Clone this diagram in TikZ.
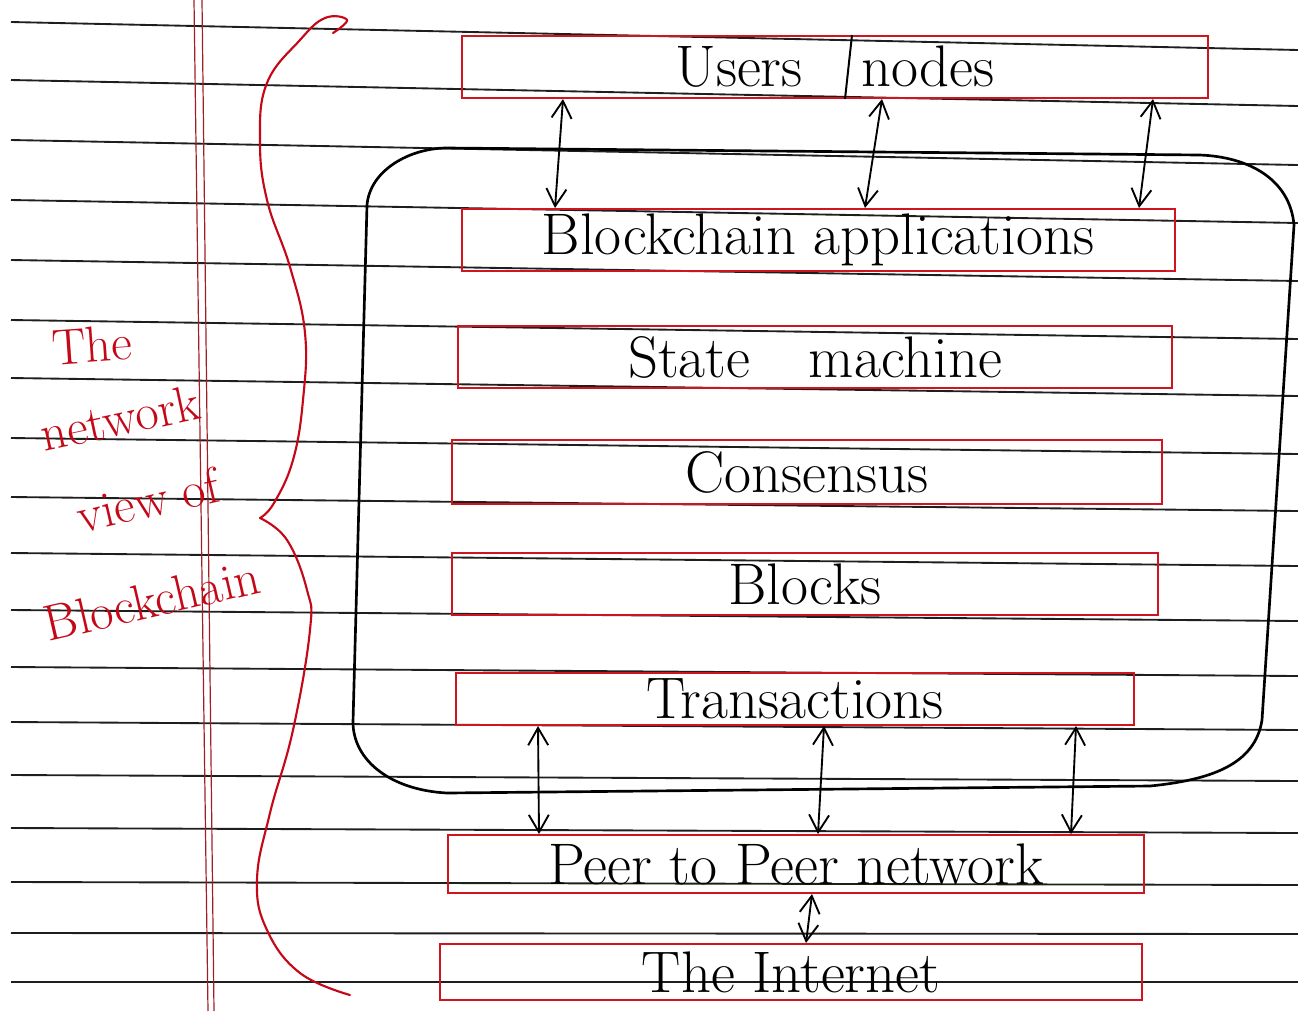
\documentclass[tikz,border=0pt]{standalone}
\usepackage{fontspec}
\usetikzlibrary{arrows.meta}

\tikzset{every picture/.style={line width=0.75pt}}
\tikzset{
  redbox/.style={draw={rgb, 255:red, 208; green, 20; blue, 32}, line width=1.5, inner sep=0pt, font=\fontsize{44}{50}\selectfont},
  boxwh/.style 2 args={minimum width={#1*0.75pt}, minimum height={#2*0.75pt}},
  redhand/.style={text={rgb, 255:red, 196; green, 8; blue, 24}, inner sep=0pt, font=\fontsize{38}{44}\selectfont},
  updown/.style={arrows={Straight Barb[length=13pt,width=15pt]-Straight Barb[length=13pt,width=15pt]}, line width=1.4},
  ruled/.style={color={rgb, 255:red, 30; green, 30; blue, 30}, line width=1.4},
  margin/.style={color={rgb, 255:red, 160; green, 30; blue, 40}, line width=0.9}
}

\begin{document}
\begin{tikzpicture}[x=0.75pt,y=0.75pt,yscale=-1,xscale=1]
\useasboundingbox (0,0) rectangle (1298,1011);

%Ruled paper lines
\draw [ruled] (11,22) -- (1298,50)(11,80) -- (1298,106)(11,140) -- (1298,165)(11,200) -- (1298,223)(11,260) -- (1298,281)(11,320) -- (1298,339)(11,378) -- (1298,396)(11,438) -- (1298,454)(11,497) -- (1298,511)(11,553) -- (1298,566)(11,610) -- (1298,621)(11,667) -- (1298,676)(11,722) -- (1298,730)(11,775) -- (1298,781)(11,828) -- (1298,833)(11,882) -- (1298,885)(11,933) -- (1298,934)(11,982) -- (1298,982) ;

%Margin lines
\draw [margin] (194,0) -- (208,1011)(202,0) -- (214,1011) ;

%Curve Lines (brace)
\draw [color={rgb, 255:red, 196; green, 8; blue, 24 }][line width=1.6][line join = round][line cap = round] plot [smooth, tension=0.7] coordinates {(333,33) (347,20) (325,18) (300,40) (267,83) (260,140) (267,200) (290,267) (305,333) (303,400) (293,460) (274,503) (260,518)} ;
\draw [color={rgb, 255:red, 196; green, 8; blue, 24 }][line width=1.6][line join = round][line cap = round] plot [smooth, tension=0.7] coordinates {(260,518) (287,540) (307,590) (310,630) (293,730) (270,813) (257,880) (267,930) (300,973) (350,995)} ;

%Rounded frame
\draw [line width=2][line join = round] (447,148) -- (1200,155) .. controls (1250,157) and (1290,180) .. (1294,225) -- (1262,720) .. controls (1255,765) and (1210,780) .. (1150,786) -- (447,793) .. controls (390,790) and (353,760) .. (353,722) -- (367,205) .. controls (370,170) and (410,148) .. (447,148) -- cycle ;

% Box Nodes
\node [redbox, boxwh={746}{62}] (users) at (835,67) {Users\quad nodes};
\node [redbox, boxwh={713}{62}] (apps) at (818,240) {Blockchain applications};
\node [redbox, boxwh={714}{62}] (state) at (815,357) {State\quad machine};
\node [redbox, boxwh={710}{64}] (consensus) at (807,472) {Consensus};
\node [redbox, boxwh={706}{62}] (blocks) at (805,584) {Blocks};
\node [redbox, boxwh={678}{52}] (trans) at (795,699) {Transactions};
\node [redbox, boxwh={696}{58}] (ptop) at (796,864) {Peer to Peer network};
\node [redbox, boxwh={702}{56}] (inet) at (791,972) {The Internet};

%Divider
\draw [line width=1.5] (users.north -| 852,0) -- (users.south -| 845,0) ;

%Arrows
\draw [updown] (users.south -| 563,0) -- (apps.north -| 555,0) ;
\draw [updown] (users.south -| 882,0) -- (apps.north -| 865,0) ;
\draw [updown] (users.south -| 1153,0) -- (apps.north -| 1139,0) ;
\draw [updown] (trans.south -| 538,0) -- (ptop.north -| 539,0) ;
\draw [updown] (trans.south -| 824,0) -- (ptop.north -| 818,0) ;
\draw [updown] (trans.south -| 1076,0) -- (ptop.north -| 1071,0) ;
\draw [updown] (ptop.south -| 812,0) -- (inet.north -| 806,0) ;

% Text Node
\node [redhand, rotate=4] (lblthe) at (92,345) {The};
% Text Node
\node [redhand, rotate=12] (lblnet) at (120,418) {network};
% Text Node
\node [redhand, rotate=13] (lblview) at (148,500) {view of};
% Text Node
\node [redhand, rotate=13] (lblchain) at (152,600) {Blockchain};

\end{tikzpicture}
\end{document}
